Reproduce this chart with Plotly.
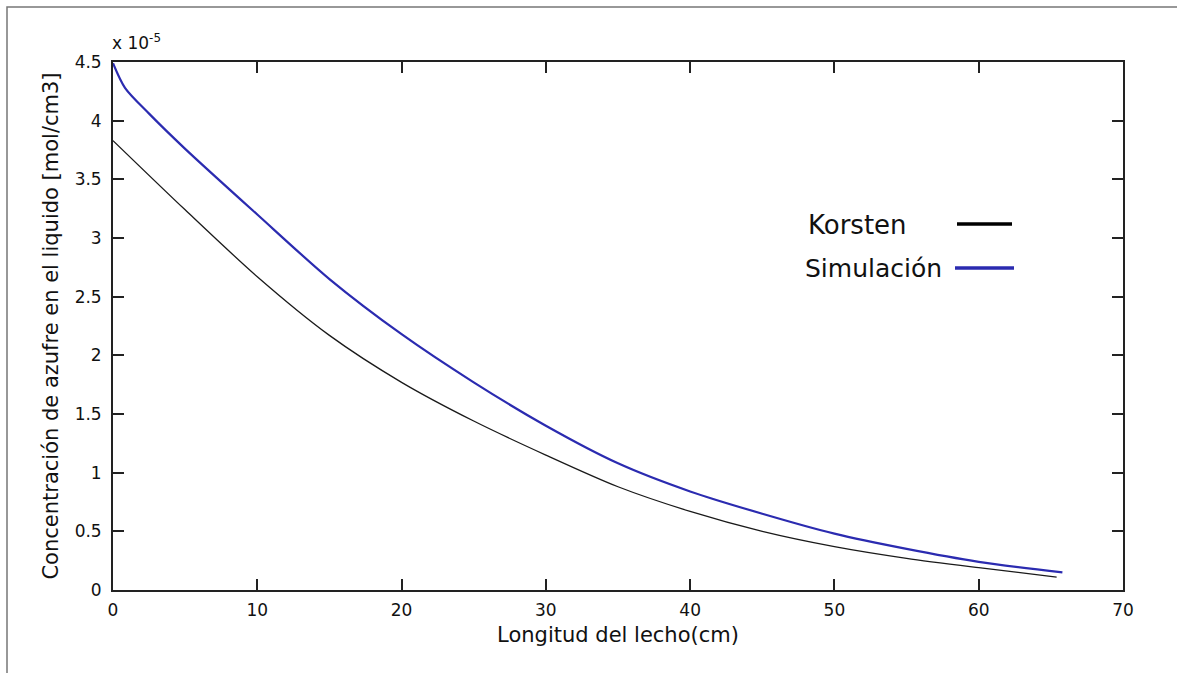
import plotly.graph_objects as go

# Longitud del lecho (cm) and concentration (x 1e-5 mol/cm3)
x_sim = [0, 0.83, 2.5, 5, 10, 15, 20, 25, 30, 35, 40, 45, 50, 55, 60, 65.8]
y_sim = [4.49, 4.28, 4.06, 3.76, 3.20, 2.65, 2.18, 1.77, 1.40, 1.08, 0.84, 0.65, 0.48, 0.35, 0.24, 0.15]

x_kor = [0, 5, 10, 15, 20, 25, 30, 35, 40, 45, 50, 55, 60, 65.4]
y_kor = [3.83, 3.24, 2.67, 2.17, 1.77, 1.44, 1.15, 0.88, 0.67, 0.50, 0.37, 0.27, 0.19, 0.11]

x_ticks = [0, 10, 20, 30, 40, 50, 60, 70]
y_ticks = [0, 0.5, 1, 1.5, 2, 2.5, 3, 3.5, 4, 4.5]
y_tick_labels = ["0", "0.5", "1", "1.5", "2", "2.5", "3", "3.5", "4", "4.5"]

FONT = "DejaVu Sans, Verdana, sans-serif"

fig = go.Figure()
fig.add_trace(go.Scatter(x=x_kor, y=y_kor, mode="lines", name="Korsten",
                         line=dict(color="#1a1a1a", width=1.3, shape="spline", smoothing=0.8),
                         showlegend=False))
fig.add_trace(go.Scatter(x=x_sim, y=y_sim, mode="lines", name="Simulación",
                         line=dict(color="#2b2bb0", width=2.2, shape="spline", smoothing=0.8),
                         showlegend=False))

L, R, T, B = 113, 54, 62, 83
W, H = 1177, 673
pw, ph = W - L - R, H - T - B

def px_x(p):
    return (p - L) / pw

def px_y(p):
    return (H - B - p) / ph

axis_common = dict(
    showline=True, linecolor="#222222", linewidth=1.8, mirror="ticks",
    ticks="inside", ticklen=11, tickwidth=1.5, tickcolor="#222222",
    showgrid=False, zeroline=False,
    tickfont=dict(family=FONT, size=17, color="#111111"),
)

fig.update_layout(
    width=W, height=H,
    margin=dict(l=L, r=R, t=T, b=B),
    paper_bgcolor="white", plot_bgcolor="white",
    font=dict(family=FONT, color="#111111"),
    xaxis=dict(range=[0, 70], tickvals=x_ticks, ticklabelstandoff=4,
               title=dict(text="Longitud del lecho(cm)", font=dict(family=FONT, size=21), standoff=8),
               **axis_common),
    yaxis=dict(range=[0, 4.5], tickvals=y_ticks, ticktext=y_tick_labels, ticklabelstandoff=6,
               title=dict(text="Concentración de azufre en el liquido [mol/cm3]", font=dict(family=FONT, size=21), standoff=10),
               **axis_common),
    shapes=[
        # outer frame (left and top)
        dict(type="path", xref="paper", yref="paper",
             path=f"M {px_x(7)},{px_y(700)} L {px_x(7)},{px_y(7)} L {px_x(1200)},{px_y(7)}",
             line=dict(color="#777777", width=1.5)),
        # legend lines
        dict(type="line", xref="paper", yref="paper",
             x0=px_x(957), x1=px_x(1012), y0=px_y(224), y1=px_y(224),
             line=dict(color="#000000", width=3.5)),
        dict(type="line", xref="paper", yref="paper",
             x0=px_x(955), x1=px_x(1014), y0=px_y(268), y1=px_y(268),
             line=dict(color="#2b2bb0", width=3.5)),
    ],
    annotations=[
        dict(text="x 10<sup>-5</sup>", xref="paper", yref="paper",
             x=px_x(110), y=px_y(42), xanchor="left", yanchor="middle",
             showarrow=False, font=dict(family=FONT, size=17, color="#111111")),
        dict(text="Korsten", xref="paper", yref="paper",
             x=px_x(806), y=px_y(225), xanchor="left", yanchor="middle",
             showarrow=False, font=dict(family=FONT, size=26, color="#111111")),
        dict(text="Simulación", xref="paper", yref="paper",
             x=px_x(803), y=px_y(268), xanchor="left", yanchor="middle",
             showarrow=False, font=dict(family=FONT, size=25, color="#111111")),
    ],
)

fig.write_html("out.html")
